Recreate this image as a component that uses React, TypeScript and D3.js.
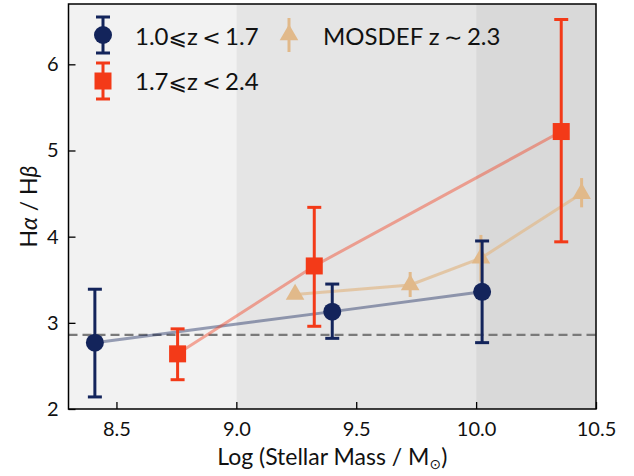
import React, { useRef, useEffect } from 'react';
import * as d3 from 'd3';

// low-z sample (navy circles)
const lowMass = [8.41, 9.40, 10.025];
const lowRatio = [2.77, 3.13, 3.36];
const lowErrLo = [2.14, 2.82, 2.77];
const lowErrHi = [3.39, 3.45, 3.95];

// high-z sample (red squares)
const highMass = [8.755, 9.325, 10.355];
const highRatio = [2.64, 3.66, 5.22];
const highErrLo = [2.34, 2.96, 3.94];
const highErrHi = [2.93, 4.34, 6.52];

// MOSDEF (tan triangles)
const mosMass = [9.245, 9.725, 10.02, 10.44];
const mosRatio = [3.33, 3.44, 3.75, 4.50];
const mosErrLo = [3.30, 3.30, 3.48, 4.34];
const mosErrHi = [3.36, 3.59, 4.02, 4.68];

const xTicks = [8.5, 9.0, 9.5, 10.0, 10.5];
const yTicks = [2, 3, 4, 5, 6];
const bands = [
  { from: 8.3, to: 9.0, fill: '#f2f2f2' },
  { from: 9.0, to: 10.0, fill: '#e5e5e5' },
  { from: 10.0, to: 10.5, fill: '#d9d9d9' },
];
const caseB = 2.86;

const NAVY = '#13245b';
const RED = '#f33a18';
const TAN = '#e1b98a';
const FONT = 'Lato, "DejaVu Sans", sans-serif';
const MATH = '"DejaVu Sans", sans-serif';

export default function App() {
  const ref = useRef<SVGSVGElement | null>(null);

  useEffect(() => {
    if (!ref.current) return;
    const svg = d3.select(ref.current);
    svg.selectAll('*').remove();

    const W = 634, H = 476;
    const margin = { top: 4, right: 38, bottom: 67, left: 68.5 };
    const width = W - margin.left - margin.right;
    const height = H - margin.top - margin.bottom;

    const x = d3.scaleLinear().domain([8.3, 10.5]).range([0, width]);
    const y = d3.scaleLinear().domain([2, 6.7]).range([height, 0]);

    const g = svg.append('g').attr('transform', `translate(${margin.left},${margin.top})`);

    // shaded mass bins
    g.selectAll('rect.band').data(bands).enter().append('rect')
      .attr('x', d => x(d.from)).attr('width', d => x(d.to) - x(d.from))
      .attr('y', 0).attr('height', height)
      .attr('fill', d => d.fill);

    // case B line
    g.append('line')
      .attr('x1', 0).attr('x2', width)
      .attr('y1', y(caseB)).attr('y2', y(caseB))
      .attr('stroke', '#7a7a7a').attr('stroke-width', 2.2).attr('stroke-dasharray', '9,5');

    const line = d3.line<[number, number]>().x(d => x(d[0])).y(d => y(d[1]));
    const connect = (xs: number[], ys: number[], color: string, op: number) => {
      g.append('path')
        .datum(xs.map((v, i) => [v, ys[i]] as [number, number]))
        .attr('fill', 'none').attr('stroke', color).attr('stroke-opacity', op)
        .attr('stroke-width', 3).attr('d', line);
    };
    connect(lowMass, lowRatio, NAVY, 0.42);
    connect(highMass, highRatio, RED, 0.42);
    connect(mosMass, mosRatio, TAN, 0.7);

    const errBars = (xs: number[], lo: number[], hi: number[], color: string, cap: number) => {
      xs.forEach((v, i) => {
        g.append('line').attr('x1', x(v)).attr('x2', x(v))
          .attr('y1', y(lo[i])).attr('y2', y(hi[i]))
          .attr('stroke', color).attr('stroke-width', 3);
        if (cap > 0) {
          [lo[i], hi[i]].forEach(e => {
            g.append('line').attr('x1', x(v) - cap).attr('x2', x(v) + cap)
              .attr('y1', y(e)).attr('y2', y(e))
              .attr('stroke', color).attr('stroke-width', 3);
          });
        }
      });
    };

    // MOSDEF
    errBars(mosMass, mosErrLo, mosErrHi, TAN, 0);
    const tri = d3.symbol().type(d3.symbolTriangle).size(150);
    mosMass.forEach((v, i) => {
      g.append('path').attr('d', tri()!)
        .attr('transform', `translate(${x(v)},${y(mosRatio[i])})`)
        .attr('fill', TAN);
    });

    // low-z
    errBars(lowMass, lowErrLo, lowErrHi, NAVY, 7);
    lowMass.forEach((v, i) => {
      g.append('circle').attr('cx', x(v)).attr('cy', y(lowRatio[i])).attr('r', 9).attr('fill', NAVY);
    });

    // high-z
    errBars(highMass, highErrLo, highErrHi, RED, 7);
    highMass.forEach((v, i) => {
      g.append('rect').attr('x', x(v) - 8.5).attr('y', y(highRatio[i]) - 8.5)
        .attr('width', 17).attr('height', 17).attr('fill', RED);
    });

    // axes (ticks inward)
    const xAxis = g.append('g').attr('transform', `translate(0,${height})`)
      .call(d3.axisBottom(x).tickValues(xTicks).tickFormat(d3.format('.1f')).tickSizeInner(-7).tickSizeOuter(0).tickPadding(13));
    const yAxis = g.append('g')
      .call(d3.axisLeft(y).tickValues(yTicks).tickFormat(d3.format('d')).tickSizeInner(-7).tickSizeOuter(0).tickPadding(10));
    [xAxis, yAxis].forEach(a => {
      a.select('.domain').remove();
      a.selectAll('line').attr('stroke', '#000').attr('stroke-width', 1.3);
      a.selectAll('text').attr('font-family', FONT).attr('font-size', 20).attr('fill', '#111');
    });

    // frame
    g.append('rect').attr('width', width).attr('height', height)
      .attr('fill', 'none').attr('stroke', '#000').attr('stroke-width', 1.5);

    // axis labels
    const xl = svg.append('text')
      .attr('x', margin.left + width / 2).attr('y', 465)
      .attr('text-anchor', 'middle').attr('font-family', FONT).attr('font-size', 23).attr('fill', '#111');
    xl.append('tspan').text('Log (Stellar Mass / M');
    xl.append('tspan').attr('dy', 4).attr('font-size', 14).attr('font-family', MATH).text('⊙');
    xl.append('tspan').attr('dy', -4).text(')');

    const yl = svg.append('text')
      .attr('transform', `translate(37,${margin.top + height / 2}) rotate(-90)`)
      .attr('text-anchor', 'middle').attr('font-family', FONT).attr('font-size', 23).attr('fill', '#111');
    yl.append('tspan').text('H');
    yl.append('tspan').attr('font-style', 'italic').text('α');
    yl.append('tspan').text(' / H');
    yl.append('tspan').attr('font-style', 'italic').text('β');

    // legend
    const leg = svg.append('g');
    const legText = (tx: number, ty: number, parts: [string, boolean][]) => {
      const t = leg.append('text').attr('x', tx).attr('y', ty).attr('font-family', FONT)
        .attr('font-size', 24).attr('fill', '#111');
      parts.forEach(([s, math]) => {
        const sp = t.append('tspan').text(s);
        if (math) sp.attr('font-family', MATH).attr('font-size', 22);
      });
    };

    // navy entry
    const lx1 = 103, ly1 = 35;
    leg.append('line').attr('x1', lx1).attr('x2', lx1).attr('y1', ly1 - 18).attr('y2', ly1 + 18).attr('stroke', NAVY).attr('stroke-width', 3);
    [ly1 - 18, ly1 + 18].forEach(e => leg.append('line').attr('x1', lx1 - 7).attr('x2', lx1 + 7).attr('y1', e).attr('y2', e).attr('stroke', NAVY).attr('stroke-width', 3));
    leg.append('circle').attr('cx', lx1).attr('cy', ly1).attr('r', 9).attr('fill', NAVY);
    legText(135, ly1 + 10, [['1.0', false], ['⩽', true], ['z', false], ['\u2009<\u2009', true], ['1.7', false]]);

    // red entry
    const ly2 = 81;
    leg.append('line').attr('x1', lx1).attr('x2', lx1).attr('y1', ly2 - 18).attr('y2', ly2 + 18).attr('stroke', RED).attr('stroke-width', 3);
    [ly2 - 18, ly2 + 18].forEach(e => leg.append('line').attr('x1', lx1 - 7).attr('x2', lx1 + 7).attr('y1', e).attr('y2', e).attr('stroke', RED).attr('stroke-width', 3));
    leg.append('rect').attr('x', lx1 - 8.5).attr('y', ly2 - 8.5).attr('width', 17).attr('height', 17).attr('fill', RED);
    legText(135, ly2 + 9, [['1.7', false], ['⩽', true], ['z', false], ['\u2009<\u2009', true], ['2.4', false]]);

    // MOSDEF entry
    const lx3 = 289;
    leg.append('line').attr('x1', lx3).attr('x2', lx3).attr('y1', ly1 - 17).attr('y2', ly1 + 17).attr('stroke', TAN).attr('stroke-width', 3);
    leg.append('path').attr('d', tri()!).attr('transform', `translate(${lx3},${ly1})`).attr('fill', TAN);
    legText(323, ly1 + 10, [['MOSDEF z', false], ['\u2009∼\u2009', true], ['2.3', false]]);
  }, []);

  return (
    <svg ref={ref} width={634} height={476}
      style={{ position: 'absolute', left: 0, top: 0, background: '#fff' }} />
  );
}
